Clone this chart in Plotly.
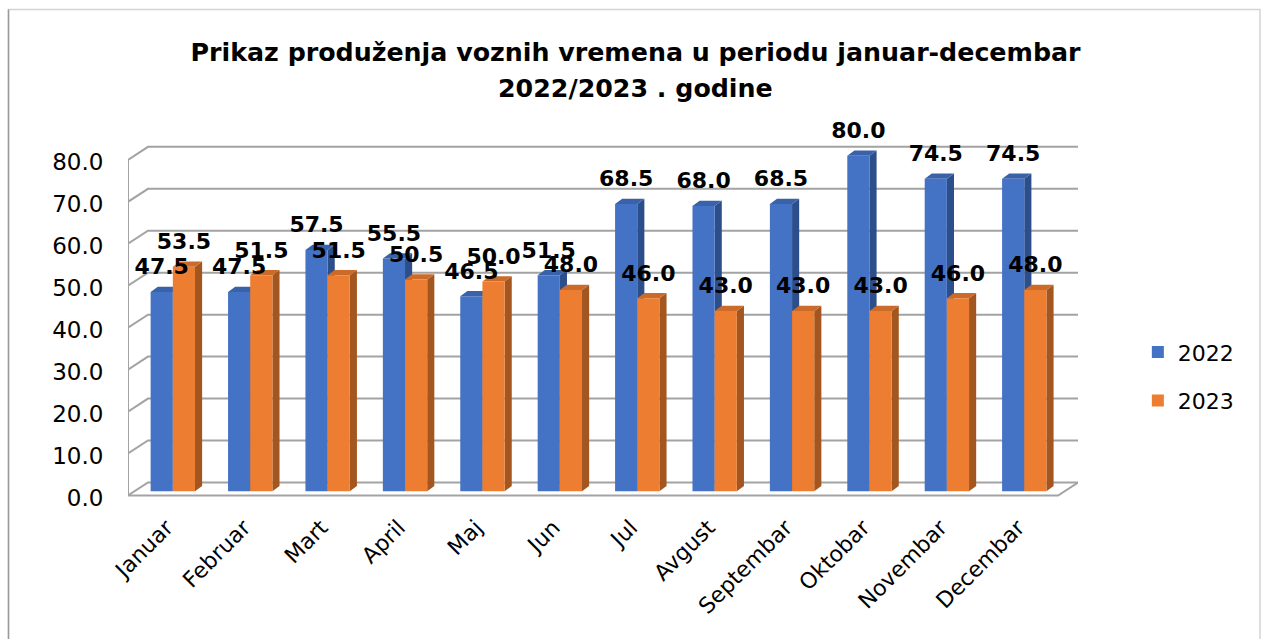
import plotly.graph_objects as go

months = ["Januar", "Februar", "Mart", "April", "Maj", "Jun", "Jul", "Avgust",
          "Septembar", "Oktobar", "Novembar", "Decembar"]
values_2022 = [47.5, 47.5, 57.5, 55.5, 46.5, 51.5, 68.5, 68.0, 68.5, 80.0, 74.5, 74.5]
values_2023 = [53.5, 51.5, 51.5, 50.5, 50.0, 48.0, 46.0, 43.0, 43.0, 43.0, 46.0, 48.0]
axis_values = [0, 10, 20, 30, 40, 50, 60, 70, 80]
title_line_1 = "Prikaz produženja voznih vremena u periodu januar-decembar"
title_line_2 = "2022/2023 . godine"

# chart geometry (axis units)
X0, X1 = -0.579, 11.694
Y0, Y1 = -1.6, 90.88
PLOT_BOTTOM, PLOT_HEIGHT = 498.4, 388.4
WALL_DX, WALL_DY = 0.258, 3.1      # depth of the floor / wall
BAR_W = 0.2865
BAR_DX, BAR_DY = 0.092, 1.25       # depth of a bar
LABEL_UP = 5.5
TICK_SHIFT = -0.08
GRID = "#a3a3a3"
BLUE, BLUE_SIDE, BLUE_TOP = "#4472c4", "#2c4f8c", "#3a62a9"
ORANGE, ORANGE_SIDE, ORANGE_TOP = "#ed7d31", "#a3561f", "#cb6a29"
FONT = "DejaVu Sans"


def faces(values, left_shift):
    sx, sy, tx, ty = [], [], [], []
    for i, v in enumerate(values):
        xl = i + left_shift
        xr = xl + BAR_W
        sx += [xr, xr + BAR_DX, xr + BAR_DX, xr, xr, None]
        sy += [0, BAR_DY, v + BAR_DY, v, 0, None]
        tx += [xl, xr, xr + BAR_DX, xl + BAR_DX, xl, None]
        ty += [v, v, v + BAR_DY, v + BAR_DY, v, None]
    return sx, sy, tx, ty


def poly(x, y, color, z):
    return go.Scatter(x=x, y=y, mode="lines", fill="toself", fillcolor=color,
                      line=dict(width=0, color=color), showlegend=False,
                      hoverinfo="skip", zorder=z, cliponaxis=False)


fig = go.Figure()

# walls and floor
gx, gy = [], []
for v in axis_values:
    gx += [X0, X0 + WALL_DX, X1, None]
    gy += [v - 1.0, v + WALL_DY - 1.0, v + WALL_DY - 1.0, None]
gx += [X0, X0, None, X0, X1 - WALL_DX, X1]
gy += [-1.0, 79.0, None, -1.0, -1.0, WALL_DY - 1.0]
fig.add_trace(go.Scatter(x=gx, y=gy, mode="lines", line=dict(color=GRID, width=2),
                         showlegend=False, hoverinfo="skip", zorder=-1, cliponaxis=False))

# bars
sx, sy, tx, ty = faces(values_2022, -BAR_W)
fig.add_trace(poly(sx, sy, BLUE_SIDE, 0))
fig.add_trace(poly(tx, ty, BLUE_TOP, 0))
fig.add_trace(go.Bar(x=list(range(12)), y=values_2022, name="2022", marker_color=BLUE,
                     marker_line_width=0, zorder=1, legendgroup="a", hoverinfo="y"))
sx, sy, tx, ty = faces(values_2023, 0)
fig.add_trace(poly(sx, sy, ORANGE_SIDE, 2))
fig.add_trace(poly(tx, ty, ORANGE_TOP, 2))
fig.add_trace(go.Bar(x=list(range(12)), y=values_2023, name="2023", marker_color=ORANGE,
                     marker_line_width=0, zorder=3, legendgroup="b", hoverinfo="y"))

# data labels
for values, side in ((values_2022, -BAR_W / 2), (values_2023, BAR_W / 2)):
    fig.add_trace(go.Scatter(
        x=[i + side for i in range(12)], y=[v + LABEL_UP for v in values],
        text=[f"{v:.1f}" for v in values], mode="text", textposition="middle center",
        textfont=dict(family=FONT, size=22, color="#000000", weight="bold"),
        showlegend=False, hoverinfo="skip", zorder=4, cliponaxis=False))

fig.update_layout(
    width=1261, height=639,
    margin=dict(l=128, r=183, t=110, b=639 - PLOT_BOTTOM, autoexpand=False),
    paper_bgcolor="white", plot_bgcolor="white",
    barmode="group", bargap=1 - 2 * BAR_W, bargroupgap=0,
    title=dict(
        text=title_line_1,
        x=0.504, xanchor="center", yref="container", y=1 - 52 / 639, yanchor="middle",
        font=dict(family=FONT, size=25.3, color="#000000", weight="bold"),
    ),
    annotations=[dict(text=title_line_2, xref="paper", yref="paper",
                      x=(635.5 - 128) / 950, y=(PLOT_BOTTOM - 88) / PLOT_HEIGHT,
                      xanchor="center", yanchor="middle", showarrow=False,
                      font=dict(family=FONT, size=25.3, color="#000000", weight="bold"))],
    xaxis=dict(range=[X0, X1], tickmode="array",
               tickvals=[i + TICK_SHIFT for i in range(12)], ticktext=months,
               tickangle=-45, showgrid=False, zeroline=False, showline=False,
               ticks="outside", ticklen=7, tickcolor="rgba(0,0,0,0)",
               tickfont=dict(family=FONT, size=22, color="#000000")),
    yaxis=dict(range=[Y0, Y1], tickmode="array", tickvals=[v - 1.5 for v in axis_values],
               ticktext=[f"{v:.1f}" for v in axis_values], showgrid=False, zeroline=False,
               showline=False, ticks="outside", ticklen=19, tickcolor="rgba(0,0,0,0)",
               tickfont=dict(family=FONT, size=23, color="#000000")),
    legend=dict(x=1.063, y=1 - 221.4 / PLOT_HEIGHT, xanchor="left", yanchor="top",
                traceorder="grouped", tracegroupgap=17,
                font=dict(family=FONT, size=22, color="#000000"),
                bgcolor="rgba(0,0,0,0)"),
    shapes=[
        dict(type="rect", xref="paper", yref="paper", layer="below",
             x0=(8.5 - 128) / 950, x1=(1260 - 128) / 950, y0=-0.5,
             y1=(PLOT_BOTTOM - 9.5) / PLOT_HEIGHT,
             line=dict(color="#d4d4d4", width=1.5)),
        dict(type="line", xref="paper", yref="paper", layer="below",
             x0=(8.5 - 128) / 950, x1=(8.5 - 128) / 950, y0=-0.5,
             y1=(PLOT_BOTTOM - 9.5) / PLOT_HEIGHT,
             line=dict(color="#9a9a9a", width=1.5)),
    ],
    hovermode="closest",
)
fig.write_html("out.html", config={"displayModeBar": False},
               post_script="document.body.style.margin='0';document.body.style.overflow='hidden';")
